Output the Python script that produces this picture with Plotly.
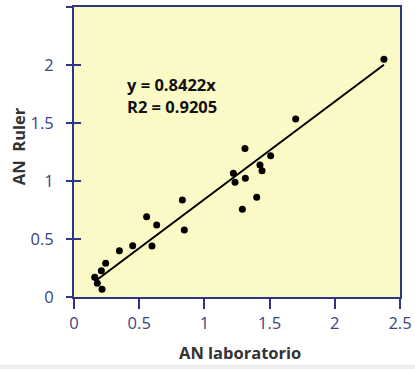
import plotly.graph_objects as go

# Data
an_laboratorio = [2.377, 1.70, 1.311, 1.508, 1.426, 1.442, 1.222, 1.235, 1.314, 0.831,
                  1.401, 1.291, 0.557, 0.634, 0.846, 0.348, 0.45, 0.598, 0.243, 0.21,
                  0.159, 0.179, 0.215]
an_ruler = [2.05, 1.534, 1.28, 1.218, 1.138, 1.089, 1.066, 0.989, 1.023, 0.836,
            0.859, 0.756, 0.692, 0.621, 0.578, 0.399, 0.442, 0.44, 0.29, 0.227,
            0.17, 0.118, 0.066]
slope = 0.8422
r2 = 0.9205
fit_x = [min(an_laboratorio), max(an_laboratorio)]
fit_y = [slope * v for v in fit_x]
tick_vals = [0, 0.5, 1, 1.5, 2, 2.5]
tick_text = ["0", "0.5", "1", "1.5", "2", "2.5"]

axis_color = "#2e3585"
tick_font_color = "#3c4282"
FONT = "Open Sans, Arial"

fig = go.Figure()
fig.add_trace(go.Scatter(x=an_laboratorio, y=an_ruler, mode="markers",
                         marker=dict(color="black", size=7), showlegend=False))
fig.add_trace(go.Scatter(x=fit_x, y=fit_y, mode="lines",
                         line=dict(color="black", width=2), showlegend=False))
# dummy trace for the outside half of the y ticks
fig.add_trace(go.Scatter(x=[None], y=[None], yaxis="y2", showlegend=False))

fig.add_annotation(x=0.39, y=1.83, xref="x", yref="y", xanchor="left", yanchor="middle",
                   text=f"<b>y = {slope}x</b>", showarrow=False,
                   font=dict(family=FONT, size=16.5, color="#111111"))
fig.add_annotation(x=0.39, y=1.64, xref="x", yref="y", xanchor="left", yanchor="middle",
                   text=f"<b>R2 = {r2}</b>", showarrow=False,
                   font=dict(family=FONT, size=16.5, color="#111111"))

fig.add_annotation(x=0.51, y=-0.19, xref="paper", yref="paper", xanchor="center", yanchor="middle",
                   text="<b>AN laboratorio</b>", showarrow=False,
                   font=dict(family=FONT, size=16.5, color="#333333"))
fig.add_annotation(x=-0.172, y=0.52, xref="paper", yref="paper", xanchor="center", yanchor="middle",
                   text="<b>AN\u00a0\u00a0Ruler</b>", showarrow=False, textangle=-90,
                   font=dict(family=FONT, size=16.5, color="#333333"))

fig.update_layout(
    width=415, height=369,
    margin=dict(l=74, r=15, t=7, b=72, autoexpand=False),
    paper_bgcolor="white",
    plot_bgcolor="#fbf9c6",
    font=dict(family=FONT, size=16.5, color=tick_font_color),
    xaxis=dict(range=[0, 2.5], tickvals=tick_vals, ticktext=tick_text, automargin=False,
               showgrid=False, zeroline=False, showline=True, linecolor=axis_color,
               linewidth=2, mirror=True, ticks="outside", ticklen=10, tickwidth=2,
               tickcolor=axis_color),
    yaxis=dict(range=[0, 2.5], tickvals=tick_vals, ticktext=tick_text, automargin=False,
               showgrid=False, zeroline=False, showline=True, linecolor=axis_color,
               linewidth=2, mirror=True, ticks="inside", ticklen=7, tickwidth=2,
               tickcolor=axis_color, ticklabelstandoff=15),
    yaxis2=dict(range=[0, 2.5], tickvals=tick_vals, overlaying="y", side="left",
                showticklabels=False, showgrid=False, zeroline=False, showline=False,
                automargin=False,
                ticks="outside", ticklen=7, tickwidth=2, tickcolor=axis_color),
    shapes=[dict(type="rect", xref="paper", yref="paper", x0=-0.3, x1=1.1,
                 y0=-0.234, y1=-0.3, fillcolor="#eeeeee", line=dict(width=0), layer="below")],
)

fig.write_html("out.html", config={"displayModeBar": False},
               post_script="document.body.style.margin='0';")
